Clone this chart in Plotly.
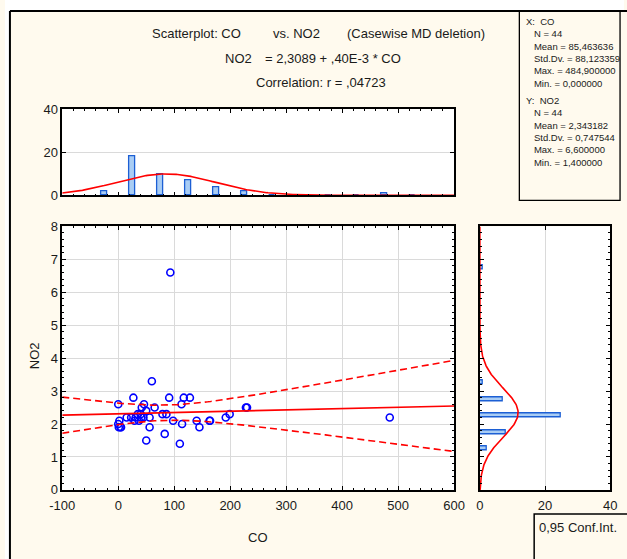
import numpy as np
import plotly.graph_objects as go

# ---- data: CO (x) and NO2 (y), 44 cases ----
co = [0, 0,
      2, 1, 5, 4, 27, 46, 42, 15, 23, 29, 37, 35, 41, 50, 50, 40, 45, 31,
      60, 65, 91, 79, 86, 56, 56, 83, 98, 93,
      117, 128, 113, 114, 110, 140, 145,
      163, 164, 192, 199,
      228, 230,
      484.9]
no2 = [2.6, 2.0,
       2.1, 1.9, 1.9, 1.9, 2.8, 2.6, 2.5, 2.2, 2.2, 2.1, 2.1, 2.3, 2.2, 2.4, 1.5, 2.3, 2.2, 2.2,
       3.3, 2.5, 2.8, 2.3, 2.3, 2.2, 1.9, 1.7, 2.1, 6.6,
       2.8, 2.8, 2.6, 2.0, 1.4, 2.1, 1.9,
       2.1, 2.1, 2.2, 2.3,
       2.5, 2.5,
       2.2]

# regression and summary statistics as printed on the chart
intercept = 2.3089
slope = 0.40e-3
co_mean, co_sd = 85.463636, 88.123359
no2_mean, no2_sd = 2.343182, 0.747544

co_ticks = [-100, 0, 100, 200, 300, 400, 500, 600]
co_tick_labels = ["-100", "0", "100", "200", "300", "400", "500", "600"]
no2_ticks = [0, 1, 2, 3, 4, 5, 6, 7, 8]
count_ticks = [0, 20, 40]

title_lines = ["Scatterplot: CO", "vs. NO2", "(Casewise MD deletion)"]
eq_lhs = "NO2"
eq_rhs = "= 2,3089 + ,40E-3 * CO"
corr_text = "Correlation: r = ,04723"
stats_x = ["X:  CO", "N = 44", "Mean = 85,463636", "Std.Dv. = 88,123359",
           "Max. = 484,900000", "Min. = 0,000000"]
stats_y = ["Y:  NO2", "N = 44", "Mean = 2,343182", "Std.Dv. = 0,747544",
           "Max. = 6,600000", "Min. = 1,400000"]
legend_text = "0,95 Conf.Int."

co_bin_w, no2_bin_w = 50.0, 0.5
co_edges = np.arange(-50, 551, co_bin_w)
no2_edges = np.arange(0.0, 8.01, no2_bin_w)

# layout grid: positions are given on a 627 x 559 design grid and converted
# to paper fractions, so the graph scales with its container
GW, GH = 627, 559
DIV_W, DIV_H = 643, 575
FONT = "Liberation Sans, Arial, sans-serif"
INK = "#1a1a1a"
CREAM = "#fffaee"


def fx(px):
    return px / GW


def fy(py):
    return 1 - py / GH


def hist_upper_inclusive(vals, edges):
    v = np.asarray(vals, float)
    return np.array([np.sum((v > lo + 1e-9) & (v <= hi + 1e-9))
                     for lo, hi in zip(edges[:-1], edges[1:])])


co_counts = hist_upper_inclusive(co, co_edges)
co_centers = (co_edges[:-1] + co_edges[1:]) / 2
no2_counts = hist_upper_inclusive(no2, no2_edges)
no2_centers = (no2_edges[:-1] + no2_edges[1:]) / 2

x_arr = np.asarray(co, float)
y_arr = np.asarray(no2, float)
n = len(x_arr)

# fitted line with 95% confidence band
xg = np.linspace(-100, 600, 141)
yfit = intercept + slope * xg
resid = y_arr - (intercept + slope * x_arr)
s = np.sqrt(np.sum(resid ** 2) / (n - 2))
sxx = np.sum((x_arr - x_arr.mean()) ** 2)
t_crit = 2.018
half = t_crit * s * np.sqrt(1 / n + (xg - x_arr.mean()) ** 2 / sxx)

# normal curves scaled to histogram counts
xc = np.linspace(-100, 600, 300)
co_norm = n * co_bin_w * np.exp(-0.5 * ((xc - co_mean) / co_sd) ** 2) / (co_sd * np.sqrt(2 * np.pi))
yc = np.linspace(0, 8, 300)
no2_norm = n * no2_bin_w * np.exp(-0.5 * ((yc - no2_mean) / no2_sd) ** 2) / (no2_sd * np.sqrt(2 * np.pi))

RED = "#ff0000"
BLUE = "#0000ff"
BAR_FILL = "#a9cdf4"
BAR_LINE = "#1c5fd4"

fig = go.Figure()

# main scatter
fig.add_trace(go.Scatter(x=co, y=no2, mode="markers", xaxis="x", yaxis="y",
                         marker=dict(symbol="circle-open", size=7, color=BLUE,
                                     line=dict(width=1.6, color=BLUE))))
fig.add_trace(go.Scatter(x=xg, y=yfit, mode="lines", xaxis="x", yaxis="y",
                         line=dict(color=RED, width=1.6)))
fig.add_trace(go.Scatter(x=xg, y=yfit + half, mode="lines", xaxis="x", yaxis="y",
                         line=dict(color=RED, width=1.6, dash="7px,4px")))
fig.add_trace(go.Scatter(x=xg, y=yfit - half, mode="lines", xaxis="x", yaxis="y",
                         line=dict(color=RED, width=1.6, dash="7px,4px")))

# top histogram of CO
fig.add_trace(go.Bar(x=co_centers, y=co_counts, width=10, xaxis="x2", yaxis="y2",
                     marker=dict(color=BAR_FILL, line=dict(color=BAR_LINE, width=1.3))))
fig.add_trace(go.Scatter(x=xc, y=co_norm, mode="lines", xaxis="x2", yaxis="y2",
                         line=dict(color=RED, width=1.6)))

# right histogram of NO2
fig.add_trace(go.Bar(y=no2_centers, x=no2_counts, width=0.12, orientation="h",
                     xaxis="x3", yaxis="y3",
                     marker=dict(color=BAR_FILL, line=dict(color=BAR_LINE, width=1.3))))
fig.add_trace(go.Scatter(x=no2_norm, y=yc, mode="lines", xaxis="x3", yaxis="y3",
                         line=dict(color=RED, width=1.6)))

tickfont = dict(family=FONT, size=13, color=INK)
common = dict(showline=True, linecolor="black", linewidth=1.5, mirror="allticks",
              ticks="inside", ticklen=4, tickcolor="black", tickwidth=1,
              zeroline=False, tickfont=tickfont, gridcolor="#dadada", gridwidth=1)
minor_x = dict(dtick=20, ticklen=2, ticks="inside", tickcolor="black", showgrid=False)
minor_y = dict(dtick=0.2, ticklen=2, ticks="inside", tickcolor="black", showgrid=False)

dom_main_x = [fx(58), fx(455)]
dom_main_y = [fy(490), fy(227)]
dom_top_y = [fy(196), fy(110)]
dom_right_x = [fx(481), fx(613)]

fig.update_layout(
    autosize=True, margin=dict(l=0, r=0, t=0, b=0),
    paper_bgcolor=CREAM, plot_bgcolor="white", showlegend=False,
    bargap=0,
    xaxis=dict(domain=dom_main_x, anchor="y", range=[-100, 600],
               tickmode="array", tickvals=co_ticks, ticktext=co_tick_labels,
               ticklabelstandoff=3, minor=minor_x, showgrid=True, **common),
    yaxis=dict(domain=dom_main_y, anchor="x", range=[0, 8],
               tickmode="array", tickvals=no2_ticks,
               minor=minor_y, showgrid=True, **common),
    xaxis2=dict(domain=dom_main_x, anchor="y2", range=[-100, 600],
                tickmode="array", tickvals=co_ticks,
                showticklabels=False, showgrid=False, minor=minor_x, **common),
    yaxis2=dict(domain=dom_top_y, anchor="x2", range=[0, 40],
                tickmode="array", tickvals=count_ticks, showgrid=True, **common),
    xaxis3=dict(domain=dom_right_x, anchor="y3", range=[0, 40],
                tickmode="array", tickvals=count_ticks, ticklabelstandoff=3,
                showgrid=True, **common),
    yaxis3=dict(domain=dom_main_y, anchor="x3", range=[0, 8],
                tickmode="array", tickvals=no2_ticks,
                showticklabels=False, showgrid=False, minor=minor_y, **common),
)

shapes = [
    # white strip above and left of the chart frame
    dict(type="rect", xref="paper", yref="paper", x0=0, x1=1, y0=fy(12), y1=1,
         fillcolor="white", line=dict(width=0), layer="below"),
    dict(type="rect", xref="paper", yref="paper", x0=0, x1=fx(5), y0=0, y1=1,
         fillcolor="white", line=dict(width=0), layer="below"),
    # outer frame edges
    dict(type="line", xref="paper", yref="paper", x0=fx(5), x1=1.02, y0=fy(12), y1=fy(12),
         line=dict(color="black", width=2)),
    dict(type="line", xref="paper", yref="paper", x0=fx(5), x1=fx(5), y0=fy(12), y1=-0.02,
         line=dict(color="black", width=2)),
    # statistics box
    dict(type="rect", xref="paper", yref="paper", x0=fx(521), x1=fx(623), y0=fy(201), y1=fy(12),
         line=dict(color="black", width=1.3)),
    # legend box
    dict(type="rect", xref="paper", yref="paper", x0=fx(536), x1=1.05, y0=-0.05, y1=fy(514),
         line=dict(color="black", width=1.5)),
]
fig.update_layout(shapes=shapes)

ann = []


def text(x, y, s, size=14, xanchor="left", yanchor="middle"):
    ann.append(dict(x=fx(x), y=fy(y), xref="paper", yref="paper", text=s, showarrow=False,
                    xanchor=xanchor, yanchor=yanchor, borderpad=0, align="left",
                    font=dict(family=FONT, size=size, color=INK)))


# title block
text(148, 34, title_lines[0], 13)
text(270, 34, title_lines[1], 13)
text(345, 34, title_lines[2], 13)
text(222, 59, eq_lhs, 13)
text(262, 59, eq_rhs, 13)
text(320, 83, corr_text, 13, xanchor="center")

# axis titles
text(256, 538, "CO", 13, xanchor="center")
ann.append(dict(x=fx(30), y=fy(356), xref="paper", yref="paper", text="NO2",
                showarrow=False, textangle=-90, xanchor="center", yanchor="middle",
                font=dict(family=FONT, size=13, color=INK)))


# statistics box text, one block per variable
def stats_block(lines):
    nb = "\u00a0"
    body = [lines[0]] + [nb * 3 + ln for ln in lines[1:]]
    return "<br>".join(body)


text(527, 16, stats_block(stats_x), 9.5, yanchor="top")
text(527, 95, stats_block(stats_y), 9.5, yanchor="top")

# legend text
text(540, 528, legend_text, 13)

fig.update_layout(annotations=ann)
# the graph div spans the whole page, edge to edge (cancelling the body margin)
fig.write_html("out.html", default_width=f"{DIV_W}px",
               default_height=f"{DIV_H}px; margin:-8px")
